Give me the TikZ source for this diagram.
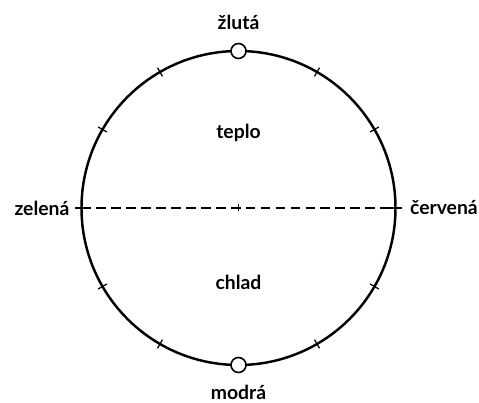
\documentclass[tikz,border=0pt]{standalone}
\usepackage{fontspec}
\setmainfont{Lato}
\usepackage{tikz}
\usetikzlibrary{positioning, calc}

\tikzset{
  label text/.style={font=\fontsize{11}{12}\selectfont\bfseries, inner sep=1pt},
  pole/.style={circle, draw, fill=white, line width=0.9pt, minimum size=0.3cm, inner sep=0pt},
  ring/.style={line width=1.4pt},
  tickmark/.style={line width=0.7pt}
}

\begin{document}
\begin{tikzpicture}
    % Frame
    \useasboundingbox (-4.77,-3.9) rectangle (4.81,4.16);
    \def\R{3.14}

    % Circle
    \draw[ring] (0,0) circle (\R);

    % Ticks every 30 degrees
    \foreach \a in {30,60,120,150,210,240,300,330}
        \draw[tickmark] (\a:\R-0.1) -- (\a:\R+0.1);

    % Horizontal axis
    \coordinate (zel) at (180:\R);
    \coordinate (cer) at (0:\R);
    \coordinate (O) at (0,0);
    \draw[tickmark, dashed, dash pattern=on 5.5pt off 3pt] (zel) -- (cer);
    \draw[tickmark] ($(zel)+(-0.12,0)$) -- ($(zel)+(0.12,0)$);
    \draw[tickmark] ($(cer)+(-0.12,0)$) -- ($(cer)+(0.12,0)$);
    \draw[tickmark] ($(O)+(0,-0.07)$) -- ($(O)+(0,0.07)$);

    % Poles
    \node[pole] (zluta) at (90:\R) {};
    \node[pole] (modra) at (270:\R) {};

    % Labels
    \node[label text, above=0.22cm of zluta] (tzluta) {žlutá};
    \node[label text, below=0.2cm of modra] (tmodra) {modrá};
    \node[label text, left=0.2cm of zel] (tzel) {zelená};
    \node[label text, right=0.25cm of cer] (tcer) {červená};
    \node[label text] (teplo) at (0,1.5) {teplo};
    \node[label text] (chlad) at (0,-1.48) {chlad};
\end{tikzpicture}
\end{document}
